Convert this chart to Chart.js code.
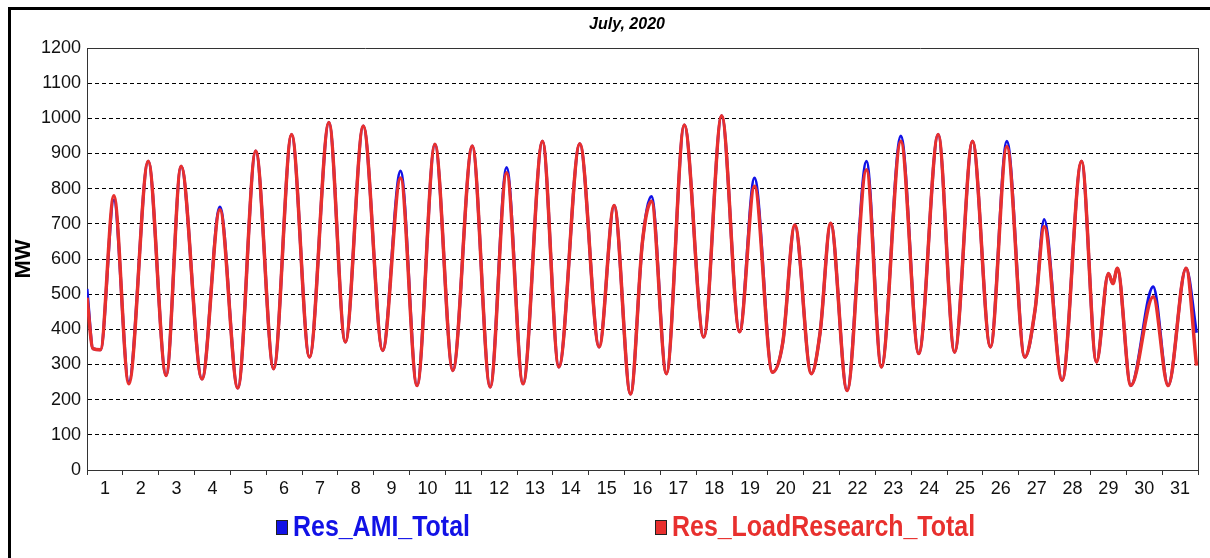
<!DOCTYPE html>
<html>
<head>
<meta charset="utf-8">
<script src="https://cdn.jsdelivr.net/npm/chart.js@4.4.1/dist/chart.umd.min.js"></script>
<style>
  html, body { margin: 0; padding: 0; background: #fff; overflow: hidden; }
  #moldura { position: absolute; left: 8px; top: 7px; width: 1400px; height: 700px;
             border-left: 3px solid #000; border-top: 3px solid #000; }
  #grafico { position: absolute; left: 0; top: 0; }
</style>
</head>
<body>
<div id="moldura"></div>
<canvas id="grafico" width="1210" height="558"></canvas>
<script>
/* DADOS */
const tituloGrafico = "July, 2020";
const nomeAMI = "Res_AMI_Total";
const nomeLoad = "Res_LoadResearch_Total";
const diasLabels = ["1", "2", "3", "4", "5", "6", "7", "8", "9", "10", "11", "12", "13", "14", "15", "16",
    "17", "18", "19", "20", "21", "22", "23", "24", "25", "26", "27", "28", "29", "30", "31"];
const ticksMW = [0, 100, 200, 300, 400, 500, 600, 700, 800, 900, 1000, 1100, 1200];

// hora do mes (0 = 1 de julho 00h) dos pontos
const horas = [0, 4, 9, 18, 28, 41, 53, 63, 77, 89, 101, 113, 125, 137, 149, 162, 173, 185, 198, 210,
    221, 233, 245, 258, 270, 281, 292, 305, 316, 330, 343, 353, 364, 372, 378, 388, 400, 413, 425, 437,
    447, 459, 466, 474, 485, 491, 498, 509, 522, 532, 545, 557, 570, 581, 593, 605, 616, 628, 635, 641,
    653, 666, 676, 684, 687, 690, 699, 714, 724, 736, 743];

const loadResearch = [490, 345, 342, 780, 245, 878, 269, 864, 259, 740, 233, 907, 288, 954, 321, 988, 364, 978, 340, 830,
    240, 926, 283, 921, 236, 845, 245, 935, 293, 928, 350, 752, 216, 650, 764, 274, 981, 378, 1007, 393,
    807, 278, 364, 697, 274, 393, 702, 226, 854, 293, 935, 331, 954, 335, 935, 350, 920, 321, 459, 692,
    255, 878, 307, 559, 530, 574, 240, 493, 240, 574, 297];

const amiTotal = [515, 345, 342, 768, 250, 878, 269, 864, 259, 748, 233, 907, 288, 954, 321, 988, 364, 978, 340, 850,
    240, 926, 283, 921, 236, 860, 245, 935, 293, 928, 350, 752, 216, 650, 778, 274, 981, 378, 1007, 393,
    830, 278, 364, 697, 274, 393, 702, 226, 878, 293, 950, 331, 954, 335, 935, 350, 935, 321, 459, 712,
    255, 878, 307, 559, 530, 574, 240, 521, 240, 574, 390];

const corAzul = "#1212e6";
const corVermelho = "#e8302e";
const fonte = "'Liberation Sans', Arial, sans-serif";

/* PLUGIN TITULO E LEGENDA */
const decoracao = {
    id: 'decoracao',
    afterDraw(chart) {
        const ctx = chart.ctx;
        ctx.save();
        ctx.fillStyle = "#000";
        ctx.font = "italic bold 16px " + fonte;
        ctx.textAlign = "center";
        ctx.textBaseline = "middle";
        ctx.fillText(tituloGrafico, 627, 25);

        const itens = [
            { texto: nomeAMI, cor: corAzul, x: 276 },
            { texto: nomeLoad, cor: corVermelho, x: 655 }
        ];
        ctx.textAlign = "left";
        itens.forEach(item => {
            ctx.fillStyle = item.cor;
            ctx.fillRect(item.x, 520, 12, 15);
            ctx.strokeStyle = "#222";
            ctx.lineWidth = 1;
            ctx.strokeRect(item.x + 0.5, 520.5, 11, 14);
            // texto condensado como no original
            ctx.save();
            ctx.translate(item.x + 17, 528);
            ctx.scale(0.86, 1);
            ctx.font = "bold 29px " + fonte;
            ctx.fillStyle = item.cor;
            ctx.fillText(item.texto, 0, 0);
            ctx.restore();
        });
        ctx.restore();
    }
};

/* GRAFICO */
new Chart(document.getElementById("grafico"), {
    type: 'line',
    data: {
        datasets: [{
            label: nomeAMI,
            data: horas.map((h, i) => ({ x: h, y: amiTotal[i] })),
            borderColor: corAzul,
            borderWidth: 3,
            order: 1
        }, {
            label: nomeLoad,
            data: horas.map((h, i) => ({ x: h, y: loadResearch[i] })),
            borderColor: corVermelho,
            borderWidth: 3.5,
            order: 0
        }]
    },
    options: {
        responsive: false,
        animation: false,
        events: [],
        layout: { padding: { left: 9, top: 48, right: 12, bottom: 58 } },
        elements: {
            point: { radius: 0 },
            line: { cubicInterpolationMode: 'monotone', fill: false }
        },
        plugins: {
            legend: { display: false },
            title: { display: false },
            tooltip: { enabled: false }
        },
        scales: {
            x: {
                type: 'linear',
                min: 0,
                max: 744,
                afterFit: (eixo) => { eixo.height = 30; },
                ticks: {
                    stepSize: 24,
                    autoSkip: false,
                    maxRotation: 0,
                    padding: 3,
                    labelOffset: 17.9,
                    color: "#111",
                    font: { family: fonte, size: 18 },
                    callback: (v) => diasLabels[v / 24] || ''
                },
                grid: { drawOnChartArea: false, drawTicks: true, tickLength: 5, color: "#333", lineWidth: 1 },
                border: { display: true, color: "#333", width: 1 }
            },
            y: {
                min: ticksMW[0],
                max: ticksMW[ticksMW.length - 1],
                afterFit: (eixo) => { eixo.width = 78; },
                ticks: {
                    stepSize: 100,
                    padding: 6,
                    color: "#111",
                    font: { family: fonte, size: 18 },
                    callback: (v) => String(v)
                },
                grid: {
                    drawTicks: false,
                    color: (c) => (c.tick && (c.tick.value === 1200 || c.tick.value === 0)) ? "#333" : "#000",
                    lineWidth: 1
                },
                border: {
                    display: true,
                    color: "#333",
                    width: 1,
                    dash: (c) => (c.tick && (c.tick.value === 1200 || c.tick.value === 0)) ? [] : [4, 3]
                },
                title: {
                    display: true,
                    text: "MW",
                    color: "#000",
                    padding: { top: 2, bottom: 0 },
                    font: { family: fonte, size: 22, weight: 'bold' }
                }
            },
            y2: {
                position: 'right',
                min: 0,
                max: 1200,
                afterFit: (eixo) => { eixo.width = 0; },
                ticks: { display: false },
                grid: { display: false, drawTicks: false },
                border: { display: true, color: "#333", width: 1 }
            }
        }
    },
    plugins: [decoracao]
});
</script>
</body>
</html>
